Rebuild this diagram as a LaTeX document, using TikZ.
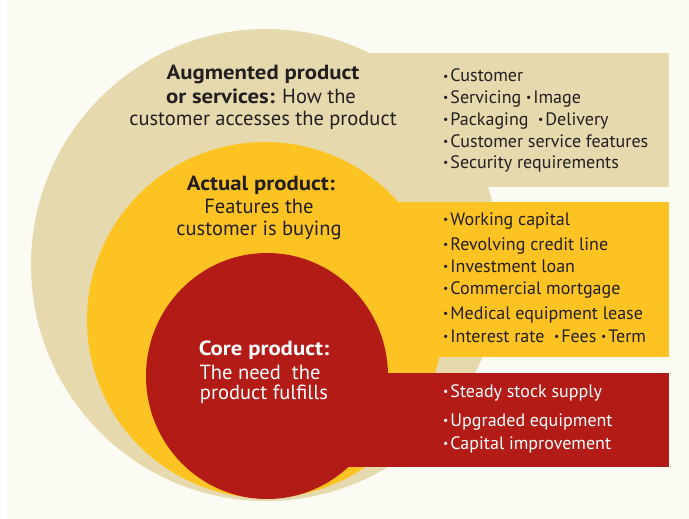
\documentclass[tikz,border=0pt]{standalone}
\usepackage{fontspec}
\setmainfont{PT Sans}[BoldFeatures={FakeStretch=1.11}]
\definecolor{bgc}{HTML}{FBFBF3}
\definecolor{beige}{HTML}{E5D9AD}
\definecolor{yel}{HTML}{FDC323}
\definecolor{redc}{HTML}{B31B17}
\definecolor{txt}{HTML}{231F20}
\newcommand\bul{\raisebox{0.1em}{\scalebox{0.65}{•}}\kern2pt}
\tikzset{
  big/.style={font=\fontsize{20.5}{23}\selectfont, text=txt, inner sep=0pt, anchor=base},
  bigw/.style={big, text=white},
  item/.style={font=\fontsize{18}{20}\selectfont, text=txt, inner sep=0pt, anchor=base west},
  itemw/.style={item, text=white}
}
\begin{document}
\begin{tikzpicture}[x=1pt,y=-1pt]
\useasboundingbox (0,0) rectangle (689,519);
\fill[bgc] (0,0) rectangle (689,519);
\fill[white] (0,0) rectangle (7,519);
% shapes
\fill[beige] (266,265) ellipse [x radius=235pt, y radius=236pt];
\fill[beige] (300,53) rectangle (669,187);
\fill[yel] (265,320) circle [radius=178pt];
\fill[yel] (300,202) rectangle (669,357);
\fill[redc] (267,376) ellipse [x radius=121pt, y radius=123pt];
\fill[redc] (300,373) rectangle (669,467);
% augmented
\node[big] (aug1) at (263,80) {\bfseries Augmented product};
\node[big] (aug2) at (261,103) {\textbf{or services:} How the};
\node[big] (aug3) at (263,126) {customer accesses the product};
% actual
\node[big] (act1) at (261,190) {\bfseries Actual product:};
\node[big] (act2) at (259,213) {Features the};
\node[big] (act3) at (259,235) {customer is buying};
% core
\node[bigw] (core1) at (264,355) {\bfseries Core product:};
\node[bigw] (core2) at (260,379) {The need\ \ the};
\node[bigw] (core3) at (264,399) {product fulfills};
% lists
\node[item] (a1) at (443,82) {\bul Customer};
\node[item] (a2) at (443,103) {\bul Servicing \bul Image};
\node[item] (a3) at (443,125) {\bul Packaging \ \bul Delivery};
\node[item] (a4) at (443,147) {\bul Customer service features};
\node[item] (a5) at (443,168) {\bul Security requirements};
\node[item] (b1) at (443,225) {\bul Working capital};
\node[item] (b2) at (443,250) {\bul Revolving credit line};
\node[item] (b3) at (443,272) {\bul Investment loan};
\node[item] (b4) at (443,294) {\bul Commercial mortgage};
\node[item] (b5) at (443,319) {\bul Medical equipment lease};
\node[item] (b6) at (443,342) {\bul Interest rate \ \bul Fees \bul Term};
\node[itemw] (c1) at (443,397) {\bul Steady stock supply};
\node[itemw] (c2) at (443,426) {\bul Upgraded equipment};
\node[itemw] (c3) at (443,449) {\bul Capital improvement};
\end{tikzpicture}
\end{document}
